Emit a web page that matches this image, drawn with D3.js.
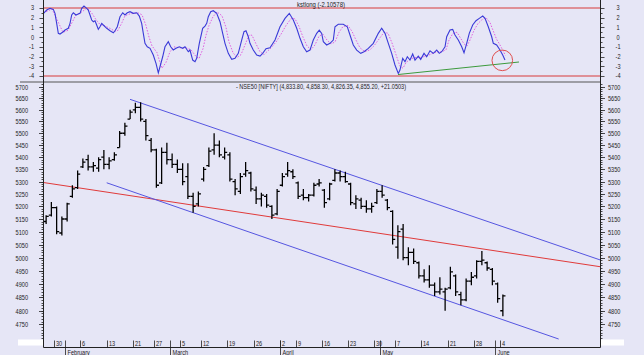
<!DOCTYPE html>
<html><head><meta charset="utf-8">
<script src="https://cdn.jsdelivr.net/npm/d3@7"></script>
<style>html,body{margin:0;padding:0;background:#e6e6f6;}svg{display:block;font-family:"Liberation Sans",Arial,sans-serif;}</style>
</head><body><svg id="c" width="644" height="355"></svg>
<script>
// ---------- DATA ----------
const tradingDays = ["2012-01-25","2012-01-27","2012-01-30","2012-01-31","2012-02-01","2012-02-02","2012-02-03",
"2012-02-06","2012-02-07","2012-02-08","2012-02-09","2012-02-10","2012-02-13","2012-02-14","2012-02-15","2012-02-16","2012-02-17",
"2012-02-21","2012-02-22","2012-02-23","2012-02-24","2012-02-27","2012-02-28","2012-02-29","2012-03-01","2012-03-02",
"2012-03-05","2012-03-06","2012-03-07","2012-03-09","2012-03-12","2012-03-13","2012-03-14","2012-03-15","2012-03-16",
"2012-03-19","2012-03-20","2012-03-21","2012-03-22","2012-03-23","2012-03-26","2012-03-27","2012-03-28","2012-03-29","2012-03-30",
"2012-04-02","2012-04-03","2012-04-04","2012-04-09","2012-04-10","2012-04-11","2012-04-12","2012-04-13",
"2012-04-16","2012-04-17","2012-04-18","2012-04-19","2012-04-20","2012-04-23","2012-04-24","2012-04-25","2012-04-26","2012-04-27",
"2012-04-30","2012-05-02","2012-05-03","2012-05-04","2012-05-07","2012-05-08","2012-05-09","2012-05-10","2012-05-11",
"2012-05-14","2012-05-15","2012-05-16","2012-05-17","2012-05-18","2012-05-21","2012-05-22","2012-05-23","2012-05-24","2012-05-25",
"2012-05-28","2012-05-29","2012-05-30","2012-05-31","2012-06-01","2012-06-04"];
const openP  = [5140,5165,5195,5095,5150,5240,5275,5360,5390,5360,5355,5400,5370,5390,5440,5500,5560,5600,5610,5550,5470,5430,5295,5420,5390,5370,5350,5320,5240,5210,5310,5365,5430,5450,5400,5410,5300,5260,5330,5335,5265,5230,5240,5200,5170,5285,5330,5340,5295,5245,5235,5245,5290,5265,5230,5305,5335,5320,5290,5210,5225,5200,5190,5215,5260,5225,5180,5040,5110,5000,5020,4980,4930,4915,4895,4870,4870,4885,4930,4860,4840,4910,4930,4985,4980,4955,4900,4800];
const highP  = [5165,5218,5200,5160,5215,5285,5345,5395,5410,5380,5400,5430,5400,5420,5510,5545,5600,5630,5632,5560,5480,5435,5440,5460,5415,5390,5375,5375,5255,5260,5360,5440,5500,5470,5440,5420,5310,5335,5380,5340,5280,5255,5250,5205,5270,5335,5380,5350,5300,5270,5250,5295,5310,5270,5295,5350,5345,5340,5295,5245,5235,5225,5215,5270,5285,5230,5185,5125,5130,5040,5035,4985,4955,4970,4905,4925,4885,4965,4935,4870,4920,4945,4990,5025,4985,4960,4905,4860];
const lowP   = [5130,5160,5090,5085,5140,5235,5270,5355,5345,5340,5340,5350,5350,5385,5440,5490,5560,5585,5550,5470,5420,5275,5290,5370,5355,5335,5285,5230,5175,5200,5300,5360,5410,5400,5390,5300,5245,5250,5320,5260,5210,5200,5195,5150,5165,5280,5320,5310,5230,5225,5220,5240,5280,5195,5225,5300,5300,5295,5205,5190,5190,5175,5175,5210,5235,5185,5050,4995,4990,4970,4975,4920,4905,4885,4855,4860,4800,4880,4855,4820,4835,4895,4920,4970,4950,4895,4830,4780];
const closeP = [5160,5195,5100,5150,5210,5270,5330,5380,5360,5365,5390,5370,5385,5410,5500,5530,5590,5610,5560,5490,5430,5285,5420,5390,5370,5350,5300,5240,5200,5250,5350,5425,5450,5410,5420,5310,5270,5320,5345,5270,5230,5245,5205,5165,5260,5320,5345,5320,5240,5235,5245,5285,5295,5215,5290,5335,5320,5300,5215,5230,5200,5190,5200,5260,5245,5195,5070,5100,5000,5020,4985,4930,4915,4895,4870,4880,4880,4945,4870,4840,4910,4925,4985,4990,4960,4910,4845,4855];

// kst oscillator (time in trading-day units, value)
const kstT = [0,0.61,1.24,1.87,2.19,2.51,2.82,3.14,3.77,4.10,4.72,5.05,5.37,5.68,6.19,6.63,6.95,7.28,7.71,8.23,8.53,8.86,9.18,9.49,9.81,10.13,10.44,10.76,11.09,11.39,12.04,12.67,13.30,13.62,14.06,14.57,15.09,15.52,15.96,16.48,17.10,17.75,18.25,18.70,19.01,19.33,19.77,20.29,20.91,21.43,21.87,22.19,22.70,23.14,23.77,24.23,24.72,25.24,25.87,26.51,26.95,27.58,27.90,28.42,28.86,29.18,29.68,30.32,30.76,31.09,31.39,31.85,32.34,32.99,33.62,34.13,34.57,35.20,35.85,36.48,37.10,37.75,38.19,38.57,39.01,39.33,39.96,40.61,41.24,41.75,42.38,43.14,44.10,45.05,46.00,46.82,47.58,48.23,48.86,49.49,50.13,50.76,51.39,52.04,52.53,52.99,53.30,53.94,54.57,55.20,55.52,56.15,57.10,57.87,58.38,59.01,59.66,60.42,61.05,61.87,62.82,63.77,64.42,65.05,65.68,66.32,66.95,67.58,67.90,68.42,68.86,69.30,69.81,70.32,70.76,71.39,71.85,72.48,72.99,73.62,74.25,74.90,75.39,75.85,76.48,76.80,77.43,77.94,78.38,79.01,79.66,80.10,80.61,81.10,81.75,82.38,83.01,83.66,84.10,84.72,85.37,85.68,86.32,86.95,87.47,87.90];
const kstV = [2.45,2.79,2.97,2.86,2.45,1.42,0.39,0.32,0.56,0.73,0.91,1.42,2.28,2.51,2.28,2.38,2.45,2.97,3.2,2.97,2.79,2.28,1.76,1.59,1.69,1.25,0.80,1.07,1.42,1.25,0.91,0.66,0.45,0.66,1.07,2.10,2.51,2.28,2.51,2.62,2.45,2.51,2.17,1.42,0.39,-0.64,-0.99,-1.15,-1.84,-2.70,-3.67,-3.05,-2.02,-0.99,-0.47,-0.99,-1.33,-1.15,-0.99,-1.15,-0.99,-1.50,-1.33,-2.36,-2.53,-2.18,-0.64,0.91,1.14,1.42,2.10,2.62,2.72,2.45,1.59,0.39,-0.64,-1.67,-2.29,-2.18,-1.67,-0.30,0.56,0.66,0.04,-0.64,-1.33,-1.84,-1.95,-1.67,-1.2,-1.1,-0.30,1.07,1.93,2.45,1.76,0.91,-0.12,-0.99,-1.50,-1.33,-0.30,0.39,0.73,0.39,-0.47,-0.81,-0.64,-0.30,1.07,1.32,1.32,1.07,0.22,-0.81,-1.33,-1.67,-1.50,-1.15,-0.64,0.39,0.91,0.39,-0.64,-1.67,-2.87,-3.73,-3.39,-2.18,-2.53,-2.02,-2.36,-1.74,-2.36,-1.95,-2.29,-1.67,-2.02,-1.40,-1.67,-1.33,-1.67,-1.50,-0.99,0.04,0.73,0.80,0.22,-0.30,-0.99,-1.61,-0.64,0.39,1.25,1.69,1.93,2.17,1.93,1.07,0.04,-0.64,-0.81,-1.33,-1.84,-2.36];
// signal line
const sigT = [0,1.62,3.71,4.67,6.19,7.33,8.29,9.05,10.0,10.76,11.52,12.67,13.62,14.19,14.95,15.52,16.48,18.0,18.76,19.52,20.1,20.67,21.62,22.19,22.57,23.33,24.1,24.86,26.0,27.14,28.1,29.05,29.62,30.38,30.95,31.52,32.29,33.05,34.0,34.76,35.33,36.1,36.86,37.62,38.38,39.14,39.71,40.48,41.24,42.0,42.76,43.52,44.29,45.24,46.19,47.14,47.9,48.67,49.43,50.19,50.95,51.71,52.48,53.24,54.0,54.76,55.52,56.29,57.05,58.0,58.76,59.52,60.29,61.24,62.19,62.95,63.9,64.86,65.62,66.38,67.14,67.9,68.48,69.05,69.81,70.57,71.33,72.1,72.86,73.62,74.38,75.14,75.9,76.67,77.24,78.0,78.76,79.33,80.1,80.67,81.24,82.0,82.76,83.52,84.29,85.05,85.62,86.29,87.05,87.62,88.0];
const sigV = [2.5,2.9,0.5,0.7,2.3,2.6,3.0,2.6,1.8,1.3,1.2,0.9,0.6,0.7,1.5,2.2,2.4,2.5,2.3,1.2,0.0,-0.9,-1.6,-2.6,-3.2,-2.6,-1.5,-1.0,-1.1,-1.1,-1.3,-2.0,-2.2,-1.2,0.2,1.2,2.1,2.6,2.2,1.0,-0.5,-1.6,-2.1,-1.8,-0.8,0.2,0.2,-0.7,-1.5,-1.8,-1.4,-1.0,-0.5,0.3,1.2,1.9,1.9,1.1,0.0,-0.9,-1.3,-0.8,0.1,0.3,-0.3,-0.7,-0.5,0.5,1.1,1.2,0.6,-0.3,-1.1,-1.5,-1.3,-0.9,-0.2,0.5,0.4,-0.6,-1.8,-3.0,-3.2,-2.6,-2.3,-2.1,-2.1,-2.1,-1.9,-1.8,-1.6,-1.5,-1.5,-1.3,-0.3,0.4,0.5,0.0,-0.7,-0.9,-0.3,0.7,1.4,1.8,2.0,1.5,0.7,-0.2,-0.9,-1.5,-1.9];

const kstBands = [3, -4];
const kstTickLabels = [3, 2, 1, 0, -1, -2, -3, -4];
const priceTickLabels = [5700,5650,5600,5550,5500,5450,5400,5350,5300,5250,5200,5150,5100,5050,5000,4950,4900,4850,4800,4750];
const monthNames = ["January","February","March","April","May","June"];
// drawn trend lines: [t0, price0, t1, price1]
const redTrend = [0, 5296, 106, 4965];
const upperChannel = [16.48, 5645, 106, 4991];
const lowerChannel = [12.04, 5295, 98.13, 4697];
const kstTrend = [67.52, -3.85, 90.57, -2.56];
const kstCircle = [87.39, -2.39];
const kstTitle = "kstlong (-2.10578)";
const priceTitle = "- NSE50 [NIFTY] (4,833.80, 4,858.30, 4,826.35, 4,855.20, +21.0503)";

// ---------- DRAW ----------
const svg = d3.select('#c');
const BG = '#e6e6f6';
const x = d3.scaleLinear().domain([0, 106]).range([43.5, 600]);
const yP = d3.scaleLog().domain([4750, 5700]).range([324.4, 86.7]);
const yK = d3.scaleLinear().domain([-4, 3]).range([76, 8]);
const L = 43.5, R = 600.5, TOPB = 82, BOT = 347.5;

svg.append('rect').attr('width',644).attr('height',355).attr('fill',BG);

function txt(str, tx, ty, anchor, size, sx){
  svg.append('text').attr('transform',`translate(${tx},${ty}) scale(${sx||0.8},1)`)
    .attr('text-anchor',anchor||'start').attr('font-size',size||7).attr('fill','#222').text(str);
}

// ---- top panel ----
const topG = svg.append('g');
topG.selectAll('line.band').data(kstBands).join('line')
  .attr('x1',L).attr('x2',R).attr('y1',d=>yK(d)).attr('y2',d=>yK(d))
  .attr('stroke','#d83a3a').attr('stroke-width',1);
const kLine = d3.line().x(d=>x(d[0])).y(d=>yK(d[1]));
topG.append('path').attr('d',kLine(d3.zip(sigT,sigV))).attr('fill','none')
  .attr('stroke','#e060e0').attr('stroke-width',1).attr('stroke-dasharray','1.5,1.5');
topG.append('path').attr('d',kLine(d3.zip(kstT,kstV))).attr('fill','none')
  .attr('stroke','#3a3ad8').attr('stroke-width',1.1);
topG.append('line').attr('x1',x(kstTrend[0])).attr('y1',yK(kstTrend[1]))
  .attr('x2',x(kstTrend[2])).attr('y2',yK(kstTrend[3])).attr('stroke','#3c9a3c').attr('stroke-width',1);
topG.append('circle').attr('cx',x(kstCircle[0])).attr('cy',yK(kstCircle[1])).attr('r',10.3)
  .attr('fill','none').attr('stroke','#e05050').attr('stroke-width',1);
txt(kstTitle, 321, 6.5, 'middle', 7, 0.85);

// separator
svg.append('line').attr('x1',20).attr('x2',R).attr('y1',TOPB).attr('y2',TOPB).attr('stroke','#555').attr('stroke-width',1);

// ---- main panel ----
svg.append('clipPath').attr('id','mclip').append('rect').attr('x',L).attr('y',TOPB+1).attr('width',R-L).attr('height',BOT-TOPB-1);
const mainG = svg.append('g').attr('clip-path','url(#mclip)');
function seg(g, s, col){
  g.append('line').attr('x1',x(s[0])).attr('y1',yP(s[1])).attr('x2',x(s[2])).attr('y2',yP(s[3]))
    .attr('stroke',col).attr('stroke-width',1);
}
seg(mainG, redTrend, '#e03a3a');
seg(mainG, upperChannel, '#5555e0');
seg(mainG, lowerChannel, '#5555e0');

const bars = tradingDays.map((d,i)=>({i,o:openP[i],h:highP[i],l:lowP[i],c:closeP[i]}));
mainG.selectAll('path.bar').data(bars).join('path').attr('class','bar')
  .attr('d',d=>{const cx=x(d.i+0.5);return `M${cx},${yP(d.h)}V${yP(d.l)}M${cx-2.6},${yP(d.o)}H${cx}M${cx},${yP(d.c)}H${cx+2.6}`;})
  .attr('fill','none').attr('stroke','#000').attr('stroke-width',1.3);
txt(priceTitle, 321, 89, 'middle', 7, 0.8);

// ---- axes frame ----
svg.append('line').attr('x1',L).attr('x2',L).attr('y1',0).attr('y2',BOT).attr('stroke','#222');
svg.append('line').attr('x1',R).attr('x2',R).attr('y1',0).attr('y2',BOT).attr('stroke','#222');
svg.append('line').attr('x1',L).attr('x2',R).attr('y1',BOT).attr('y2',BOT).attr('stroke','#222');

// price axis ticks
const minorP = d3.range(4690, 5720, 10).filter(v=>yP(v)>TOPB+2 && yP(v)<BOT-1);
const tk = svg.append('g').attr('stroke','#222').attr('stroke-width',0.8);
minorP.forEach(v=>{const yy=Math.round(yP(v))+0.5;
  tk.append('line').attr('x1',L-2).attr('x2',L).attr('y1',yy).attr('y2',yy);
  tk.append('line').attr('x1',R).attr('x2',R+2).attr('y1',yy).attr('y2',yy);});
priceTickLabels.forEach(v=>{const yy=Math.round(yP(v))+0.5;
  tk.append('line').attr('x1',L-4.5).attr('x2',L).attr('y1',yy).attr('y2',yy);
  tk.append('line').attr('x1',R).attr('x2',R+4.5).attr('y1',yy).attr('y2',yy);
  txt(String(v), 28, yy+2.4, 'end', 7, 0.8);
  txt(String(v), 608, yy+2.4, 'start', 7, 0.8);
});
// kst axis ticks
d3.range(-4, 3.01, 0.5).forEach(v=>{const yy=Math.round(yK(v))+0.5; const major=Number.isInteger(v);
  tk.append('line').attr('x1',L-(major?4:2)).attr('x2',L).attr('y1',yy).attr('y2',yy);
  tk.append('line').attr('x1',R).attr('x2',R+(major?4:2)).attr('y1',yy).attr('y2',yy);});
kstTickLabels.forEach(v=>{const yy=yK(v);
  txt(String(v), 34, yy+2.4, 'end', 7, 0.8);
  txt(String(v), 618, yy+2.4, 'middle', 7, 0.8);});

// date axis: weekly ticks = first trading day of each week, month ticks = first trading day of month
const parse = d3.timeParse('%Y-%m-%d');
const dates = tradingDays.map(parse);
dates.forEach((d,i)=>{
  if(i===0) return;
  const p = dates[i-1];
  const xx = Math.round(x(i))+0.5;
  if(d.getDay() < p.getDay() || (d - p) > 3*864e5){
    tk.append('line').attr('x1',xx).attr('x2',xx).attr('y1',340.5).attr('y2',BOT);
    txt(String(d.getDate()), xx+1.5, 346, 'start', 7, 0.8);
  }
  if(d.getMonth() !== p.getMonth()){
    tk.append('line').attr('x1',xx).attr('x2',xx).attr('y1',340.5).attr('y2',355);
    txt(monthNames[d.getMonth()], xx+2, 354.5, 'start', 7, 0.8);
  }
});

// blank label boxes
svg.append('rect').attr('x',18).attr('y',339.5).attr('width',25).attr('height',6).attr('fill','#fff');
svg.append('rect').attr('x',601).attr('y',339.5).attr('width',23).attr('height',6).attr('fill','#fff');
</script></body></html>
